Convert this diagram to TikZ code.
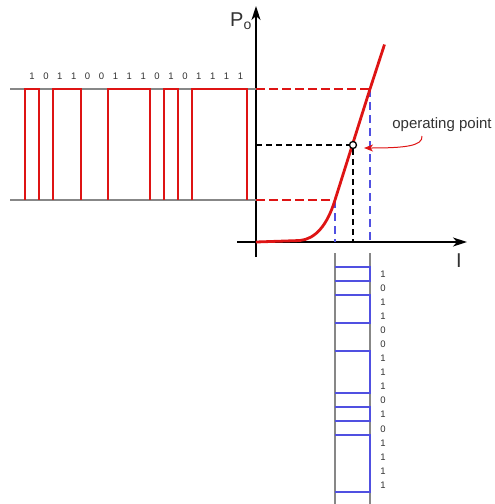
\documentclass[tikz,border=0pt]{standalone}
\usepackage{fontspec}
\setmainfont{Liberation Sans}
\usepackage{xcolor}
\usepackage{tikz}
\usetikzlibrary{arrows.meta, positioning, calc}

\definecolor{sigred}{RGB}{222,20,20}
\definecolor{sigblue}{RGB}{80,80,225}
\definecolor{basegray}{RGB}{135,135,135}
\definecolor{txt}{RGB}{50,50,50}

\tikzset{
  axis/.style={line width=1.5pt, -{Stealth[length=14pt, width=9pt, inset=4pt]}},
  guide/.style={draw=basegray, line width=1.2pt},
  inpulse/.style={draw=sigred, line width=2.2pt},
  outpulse/.style={draw=sigblue, line width=2pt},
  reddash/.style={draw=sigred, line width=2.6pt, dash pattern=on 9pt off 4pt},
  bluedash/.style={draw=sigblue, line width=2.4pt, dash pattern=on 8pt off 5pt},
  blackdash/.style={draw=black, line width=2pt, dash pattern=on 6pt off 4pt},
  bit/.style={inner sep=0pt, text=txt, font=\fontsize{9.5}{11}\selectfont},
  axlabel/.style={inner sep=0pt, text=txt, font=\fontsize{20}{24}\selectfont}
}

\begin{document}
\begin{tikzpicture}[x=1pt, y=-1pt]
\useasboundingbox (0,0) rectangle (495,504);

% Axes
\coordinate (O) at (256,242);
\coordinate (ybot) at (256,257);
\coordinate (ytop) at (256,6);
\coordinate (xbeg) at (237,242);
\coordinate (xend) at (467,242);
\draw[axis] (ybot) -- (ytop);
\draw[axis] (xbeg) -- (xend);
\node[axlabel, anchor=east] (plab) at (252,21) {P\textsubscript{o}};
\node[axlabel] (ilab) at (459,261) {I};

% Levels and transfer curve
\coordinate (hi) at (256,89);
\coordinate (lo) at (256,200);
\coordinate (mid) at (256,145);
\coordinate (A) at (335,200);
\coordinate (B) at (370,89);
\coordinate (Ax) at (335,242);
\coordinate (Bx) at (370,242);
\coordinate (Qx) at (353,242);
\draw[guide] (10,89) -- (hi);
\draw[guide] (10,200) -- (lo);
\draw[reddash] (hi) -- (B);
\draw[reddash] (lo) -- (A);
\draw[bluedash] (A) -- (Ax);
\draw[bluedash] (B) -- (Bx);
\draw[sigred, line width=2.8pt, line join=round]
  (O) -- (300,240.5) .. controls (315,239) and (327,226) .. (A) -- (B) -- (384.5,44.5);
\node[circle, draw=black, fill=white, line width=1.3pt, inner sep=0pt, minimum size=7pt] (Q) at (353,145) {};
\draw[blackdash] (mid) -- (Q);
\draw[blackdash] (Q) -- (Qx);

% Operating point label
\node[inner sep=0pt, text=txt, font=\fontsize{15}{18}\selectfont] (oplab) at (442,125) {operating point};
\coordinate (arrstart) at (422,136);
\coordinate (arrend) at (364,148);
\draw[sigred, line width=1pt, -{Stealth[length=9pt, width=7pt, inset=2.5pt]}]
  (arrstart) .. controls (423,146) and (405,148) .. (arrend);

% Input bit stream
\foreach \bitval [count=\i] in {1,0,1,1,0,0,1,1,1,0,1,0,1,1,1,1} {
  \node[bit] (in\i) at ({32+13.9*(\i-1)},76) {\bitval};
}
\foreach \xa/\xb in {25/39, 53/81, 108/150, 164/178, 192/247} {
  \draw[inpulse] (\xa,200) -- (\xa,89) -- (\xb,89) -- (\xb,200);
}

% Output bit stream
\draw[guide] (335,253) -- (335,504);
\draw[guide] (370,253) -- (370,504);
\foreach \bitval [count=\i] in {1,0,1,1,0,0,1,1,1,0,1,0,1,1,1,1} {
  \node[bit] (out\i) at (383,{274+14.07*(\i-1)}) {\bitval};
}
\foreach \ya/\yb in {267/281, 295/323, 351/393, 407/421, 435/492} {
  \draw[outpulse] (335,\ya) -- (370,\ya) -- (370,\yb) -- (335,\yb);
}
\end{tikzpicture}
\end{document}
